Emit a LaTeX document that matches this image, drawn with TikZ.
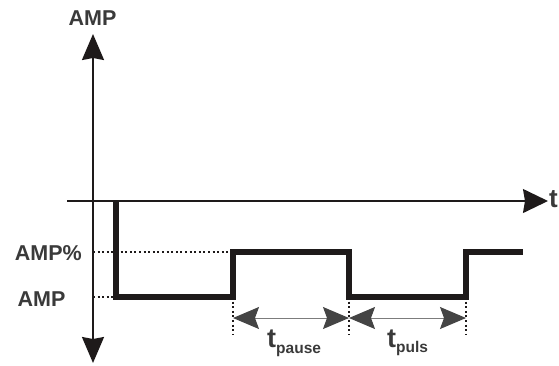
\documentclass[tikz,border=0pt]{standalone}
\usepackage{fontspec}
\setmainfont{Liberation Sans}
\usetikzlibrary{arrows.meta}
\definecolor{txt}{HTML}{3A3A3A}
\definecolor{ink}{HTML}{1E1A1A}
\definecolor{dimgrey}{HTML}{444444}
\begin{document}
\begin{tikzpicture}[x=1pt,y=-1pt,
  lbl/.style={text=txt,font=\bfseries\fontsize{21.5}{21.5}\selectfont,inner sep=0pt},
  axis/.style={draw=ink,line width=1.8pt},
  pulse/.style={draw=ink,line width=5.5pt,line join=miter,line cap=butt},
  guide/.style={draw=ink,line width=2pt,dash pattern=on 2pt off 2.6pt},
  dim/.style={draw=dimgrey!70,line width=1pt,
    {Stealth[length=26pt,width=22pt,inset=4pt,color=dimgrey]}-{Stealth[length=26pt,width=22pt,inset=4pt,color=dimgrey]}}
]
\useasboundingbox (0,0) rectangle (559,365);
% coordinates
\coordinate (ytop) at (93,34);
\coordinate (ybot) at (93,363);
\coordinate (xl) at (67,201);
\coordinate (xr) at (548,201);
\coordinate (p0) at (116,200);
\coordinate (p1) at (116,297);
\coordinate (p2) at (233,297);
\coordinate (p3) at (233,252);
\coordinate (p4) at (349,252);
\coordinate (p5) at (349,297);
\coordinate (p6) at (466,297);
\coordinate (p7) at (466,252);
\coordinate (p8) at (523,252);
\coordinate (gA) at (93,252);
\coordinate (gB) at (93,297);
\coordinate (q2) at (233,334);
\coordinate (q5) at (349,334);
\coordinate (q6) at (466,334);
\coordinate (d2) at (233,318);
\coordinate (d5) at (349,318);
\coordinate (d6) at (466,318);
% guides
\draw[guide] (gA) -- (p3);
\draw[guide] (gB) -- (p1);
\draw[guide] (p2) -- (q2);
\draw[guide] (p5) -- (q5);
\draw[guide] (p6) -- (q6);
% axes
\draw[axis,{Stealth[length=26pt,width=22pt,inset=2pt]}-{Stealth[length=26pt,width=22pt,inset=2pt]}] (ybot) -- (ytop);
\draw[draw=ink,line width=1.4pt,-{Stealth[length=25pt,width=24pt,inset=2pt]}] (xl) -- (xr);
% pulse
\draw[pulse] (p0) -- (p1) -- (p2) -- (p3) -- (p4) -- (p5) -- (p6) -- (p7) -- (p8);
% dimensions
\draw[dim] (d2) -- (d5);
\draw[dim] (d5) -- (d6);
% labels
\node[lbl,anchor=base] (ampt) at (92.5,25) {AMP};
\node[lbl,anchor=base east] (amppct) at (82,260) {AMP\%};
\node[lbl,anchor=base] (amp) at (41.5,306) {AMP};
\node[lbl,anchor=base west,font=\bfseries\fontsize{26}{26}\selectfont] (t) at (549,207) {t};
\node[lbl,anchor=base west,font=\bfseries\fontsize{27}{27}\selectfont] (tp) at (267,347) {t\raisebox{-6pt}{\fontsize{15.5}{15.5}\selectfont pause}};
\node[lbl,anchor=base west,font=\bfseries\fontsize{27}{27}\selectfont] (tq) at (387,347) {t\raisebox{-5pt}{\fontsize{15.5}{15.5}\selectfont puls}};
\end{tikzpicture}
\end{document}
